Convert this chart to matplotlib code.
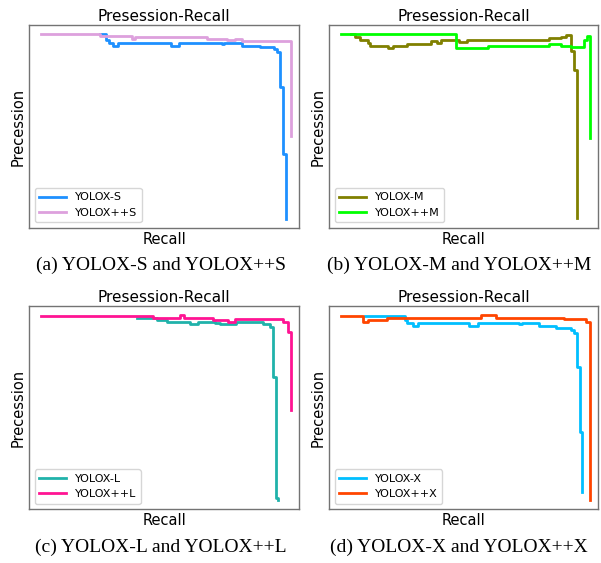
import matplotlib.pyplot as plt

# recall / precision points (arbitrary units, no ticks shown)
s_recall = [0.262, 0.284, 0.296, 0.310, 0.329, 0.524, 0.554, 0.713, 0.721, 0.788, 0.854, 0.906, 0.917, 0.931, 0.939, 0.950]
s_prec = [0.954, 0.926, 0.911, 0.897, 0.911, 0.899, 0.911, 0.905, 0.911, 0.899, 0.892, 0.880, 0.867, 0.693, 0.365, 0.043]
spp_recall = [0.042, 0.262, 0.379, 0.391, 0.658, 0.732, 0.762, 0.787, 0.969, 0.969]
spp_prec = [0.956, 0.946, 0.931, 0.939, 0.933, 0.926, 0.933, 0.923, 0.923, 0.453]

m_recall = [0.079, 0.095, 0.114, 0.143, 0.151, 0.217, 0.236, 0.291, 0.380, 0.399, 0.417, 0.484, 0.514, 0.817, 0.862, 0.880, 0.901, 0.910, 0.922, 0.922]
m_prec = [0.956, 0.939, 0.926, 0.911, 0.899, 0.888, 0.899, 0.906, 0.921, 0.911, 0.926, 0.918, 0.926, 0.934, 0.941, 0.951, 0.873, 0.778, 0.778, 0.049]
mpp_recall = [0.042, 0.472, 0.589, 0.817, 0.862, 0.899, 0.947, 0.958, 0.969, 0.969]
mpp_prec = [0.957, 0.885, 0.897, 0.905, 0.899, 0.893, 0.926, 0.946, 0.946, 0.443]

l_recall = [0.398, 0.472, 0.509, 0.595, 0.625, 0.688, 0.706, 0.768, 0.867, 0.891, 0.904, 0.913, 0.922]
l_prec = [0.941, 0.930, 0.921, 0.910, 0.920, 0.913, 0.910, 0.920, 0.909, 0.897, 0.648, 0.054, 0.046]
lpp_recall = [0.042, 0.458, 0.558, 0.573, 0.680, 0.736, 0.762, 0.941, 0.959, 0.969, 0.969]
lpp_prec = [0.949, 0.941, 0.954, 0.941, 0.930, 0.921, 0.933, 0.918, 0.869, 0.869, 0.490]

x_recall = [0.132, 0.280, 0.291, 0.311, 0.330, 0.521, 0.552, 0.706, 0.717, 0.780, 0.842, 0.898, 0.910, 0.920, 0.932, 0.941]
x_prec = [0.951, 0.930, 0.913, 0.900, 0.913, 0.900, 0.913, 0.908, 0.913, 0.900, 0.892, 0.881, 0.867, 0.700, 0.381, 0.087]
xpp_recall = [0.042, 0.126, 0.144, 0.215, 0.564, 0.622, 0.873, 0.956, 0.969, 0.969]
xpp_prec = [0.951, 0.918, 0.930, 0.941, 0.954, 0.941, 0.933, 0.921, 0.921, 0.046]

panels = [
    ("YOLOX-S", s_recall, s_prec, "#1E90FF", "YOLOX++S", spp_recall, spp_prec, "#DDA0DD",
     "(a) YOLOX-S and YOLOX++S"),
    ("YOLOX-M", m_recall, m_prec, "#808000", "YOLOX++M", mpp_recall, mpp_prec, "#00FF00",
     "(b) YOLOX-M and YOLOX++M"),
    ("YOLOX-L", l_recall, l_prec, "#20B2AA", "YOLOX++L", lpp_recall, lpp_prec, "#FF1493",
     "(c) YOLOX-L and YOLOX++L"),
    ("YOLOX-X", x_recall, x_prec, "#00BFFF", "YOLOX++X", xpp_recall, xpp_prec, "#FF4500",
     "(d) YOLOX-X and YOLOX++X"),
]

W, H = 601, 563
# axes boxes in pixels: left, top, right, bottom
boxes = [(29.3, 25, 299, 228), (329.3, 25, 598, 228),
         (29.3, 305.7, 299, 509.3), (329.3, 305.7, 598, 509.3)]
captions_at = [(160.5, 265), (459, 265), (160.5, 547.7), (459, 547.7)]

fig = plt.figure(figsize=(W / 100, H / 100), dpi=100)

for (n1, r1, p1, c1, n2, r2, p2, c2, cap), (l, t, r, b), (cx, cy) in zip(panels, boxes, captions_at):
    ax = fig.add_axes([l / W, 1 - b / H, (r - l) / W, (b - t) / H])
    ax.plot(r1, p1, color=c1, lw=2, drawstyle="steps-post", label=n1)
    ax.plot(r2, p2, color=c2, lw=2, drawstyle="steps-post", label=n2)
    ax.set_xlim(0, 1)
    ax.set_ylim(0, 1)
    ax.set_xticks([])
    ax.set_yticks([])
    for sp in ax.spines.values():
        sp.set_color("0.45")
        sp.set_linewidth(1)
    ax.set_title("Presession-Recall", fontsize=11, pad=3)
    ax.set_xlabel("Recall", fontsize=10.5, labelpad=3)
    ax.set_ylabel("Precession", fontsize=10.5, labelpad=3)
    ax.legend(loc="lower left", fontsize=8, handlelength=2.4)
    fig.text(cx / W, 1 - cy / H, cap, ha="center", va="center",
             fontsize=14, family="Liberation Serif")

fig.savefig("out.png", dpi=100)
